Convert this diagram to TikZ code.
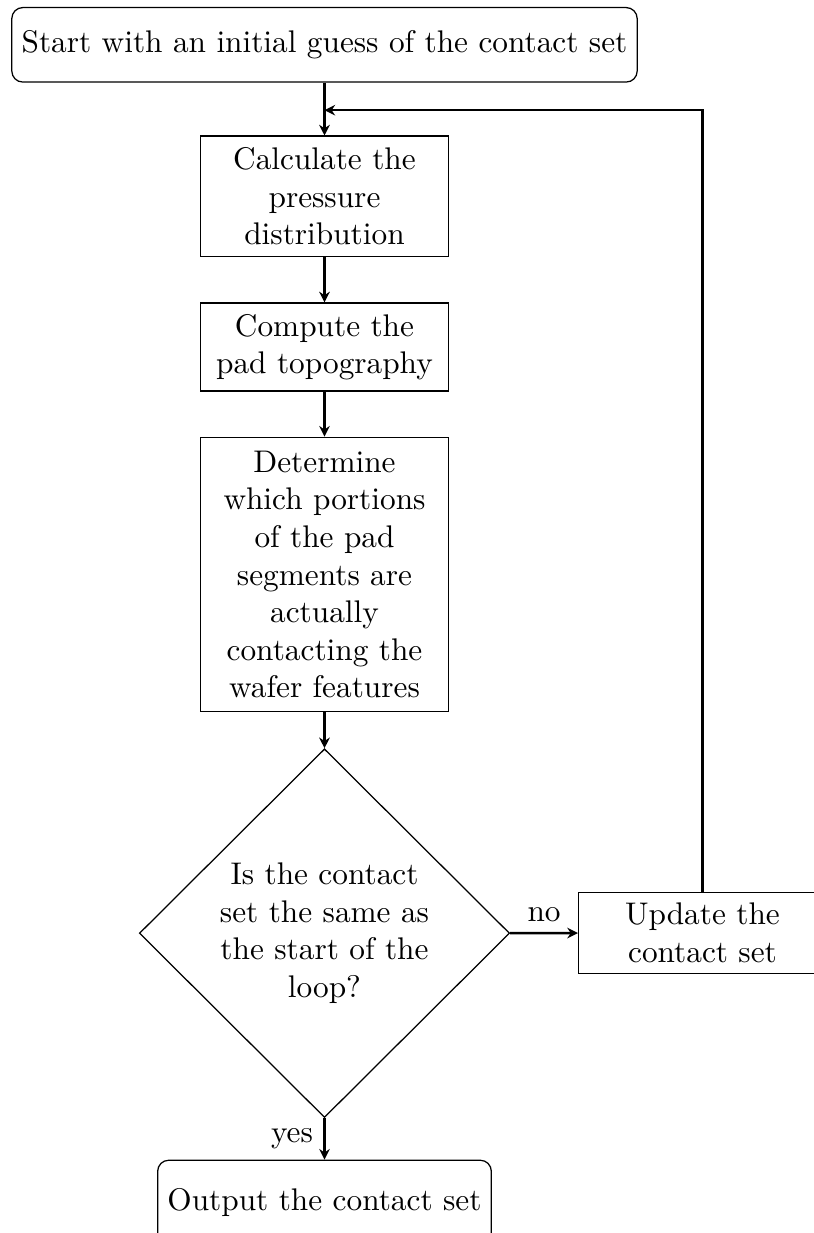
\documentclass[tikz,border=0pt]{standalone}
\usetikzlibrary{shapes.geometric,arrows.meta}
\begin{document}
\begin{tikzpicture}[x=0.3195pt, y=-0.3195pt,
  box/.style={draw, line width=0.4pt, rectangle, text width=72pt, align=flush center, minimum width=79.2pt, inner sep=3.33pt},
  term/.style={draw, line width=0.4pt, rounded corners=3.5pt, inner xsep=2pt, minimum height=23.8pt, align=center},
  decision/.style={draw, line width=0.4pt, diamond, aspect=1, text width=70pt, inner sep=0pt, align=flush center, minimum width=118.3pt, minimum height=117.8pt},
  arr/.style={line width=0.75pt, -{Stealth[length=3.4pt,width=3.4pt,inset=1.1pt]}},
  lbl/.style={inner sep=3.33pt}]
\useasboundingbox (0,0) rectangle (814,1233);
\clip (0,0) rectangle (814,1233);
\node[term, minimum width=199.8pt] (start) at (324.5,44.8) {Start with an initial guess of the contact set};
\node[box, minimum height=38.4pt] (calc) at (324.5,196.2) {Calculate the pressure distribution};
\node[box, minimum height=28.1pt] (comp) at (324.5,347) {Compute the pad topography};
\node[box, minimum height=87.7pt] (det) at (324.5,574.5) {Determine which portions of the pad segments are actually contacting the wafer features};
\node[decision] (dec) at (324.5,933.2) {Is the contact set the same as the start of the loop?};
\node[box, minimum height=25.75pt] (upd) at (702.5,933) {Update the contact set};
\node[term, minimum width=106.6pt, minimum height=27pt] (out) at (324.5,1202.5) {Output the contact set};
\path (start.south) ++(0,27.5) coordinate (j);
\draw[arr] (start) -- (calc);
\draw[arr] (calc) -- (comp);
\draw[arr] (comp) -- (det);
\draw[arr] (det) -- (dec);
\draw[arr] (dec) -- node[above, lbl] (nolbl) {no} (upd);
\draw[arr] (dec) -- node[left, lbl] (yeslbl) {yes} (out);
\draw[arr] (upd.north) |- (j);
\end{tikzpicture}
\end{document}
